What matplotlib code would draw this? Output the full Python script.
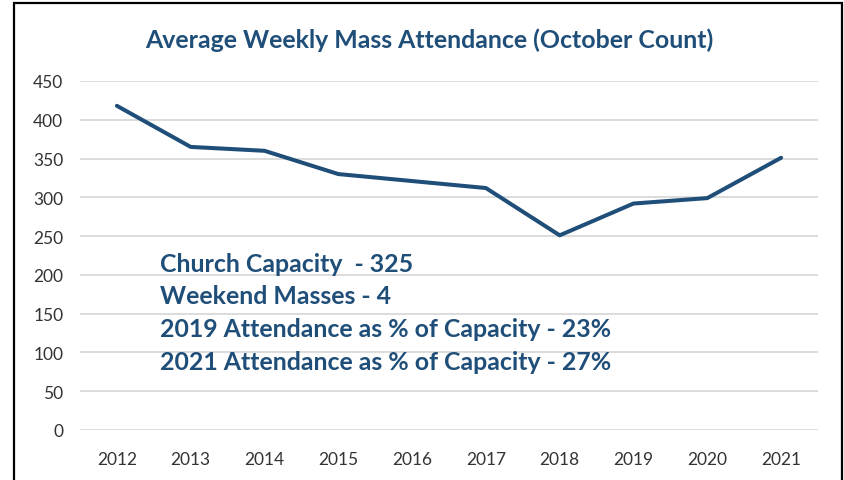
import matplotlib.pyplot as plt
from matplotlib.patches import Rectangle

years = ['2012', '2013', '2014', '2015', '2016', '2017', '2018', '2019', '2020', '2021']
attendance = [418, 365, 360, 330, 321, 312, 251, 292, 299, 351]
y_ticks = [0, 50, 100, 150, 200, 250, 300, 350, 400, 450]
notes = ['Church Capacity  - 325',
         'Weekend Masses - 4',
         '2019 Attendance as % of Capacity - 23%',
         '2021 Attendance as % of Capacity - 27%']

navy = '#1F4E79'
plt.rcParams['font.family'] = ['Lato', 'DejaVu Sans']

W, H = 845, 481
fig = plt.figure(figsize=(W / 100, H / 100), dpi=100)
ax = fig.add_axes([80 / W, 1 - 431 / H, (818 - 80) / W, (431 - 82) / H])

x = list(range(len(years)))
ax.plot(x, attendance, color=navy, lw=2.9, solid_capstyle='round', solid_joinstyle='round', zorder=3)

ax.set_xlim(-0.5, len(years) - 0.5)
ax.set_ylim(0, 450)
ax.set_yticks(y_ticks)
ax.set_xticks(x)
ax.set_xticklabels(years)
ax.yaxis.grid(True, color='#D9D9D9', lw=1.3)
ax.set_axisbelow(True)
for s in ax.spines.values():
    s.set_visible(False)
ax.tick_params(length=0, labelsize=12.5, colors='#333333')
ax.tick_params(axis='y', pad=12)
ax.tick_params(axis='x', pad=15)

fig.text(429 / W, 1 - 40 / H, 'Average Weekly Mass Attendance (October Count)',
         ha='center', va='center', color=navy, fontsize=17.9, fontweight='bold')

for i, t in enumerate(notes):
    fig.text(160 / W, 1 - (264 + 32.7 * i) / H, t, ha='left', va='center',
             color=navy, fontsize=17.9, fontweight='bold')

# chart border (bottom edge falls outside the image)
fig.patches.append(Rectangle((14 / W, -0.05), (842 - 14) / W, 1.05 - 4 / H,
                             transform=fig.transFigure, fill=False, ec='black', lw=1.6))

fig.savefig('out.png', dpi=100)
